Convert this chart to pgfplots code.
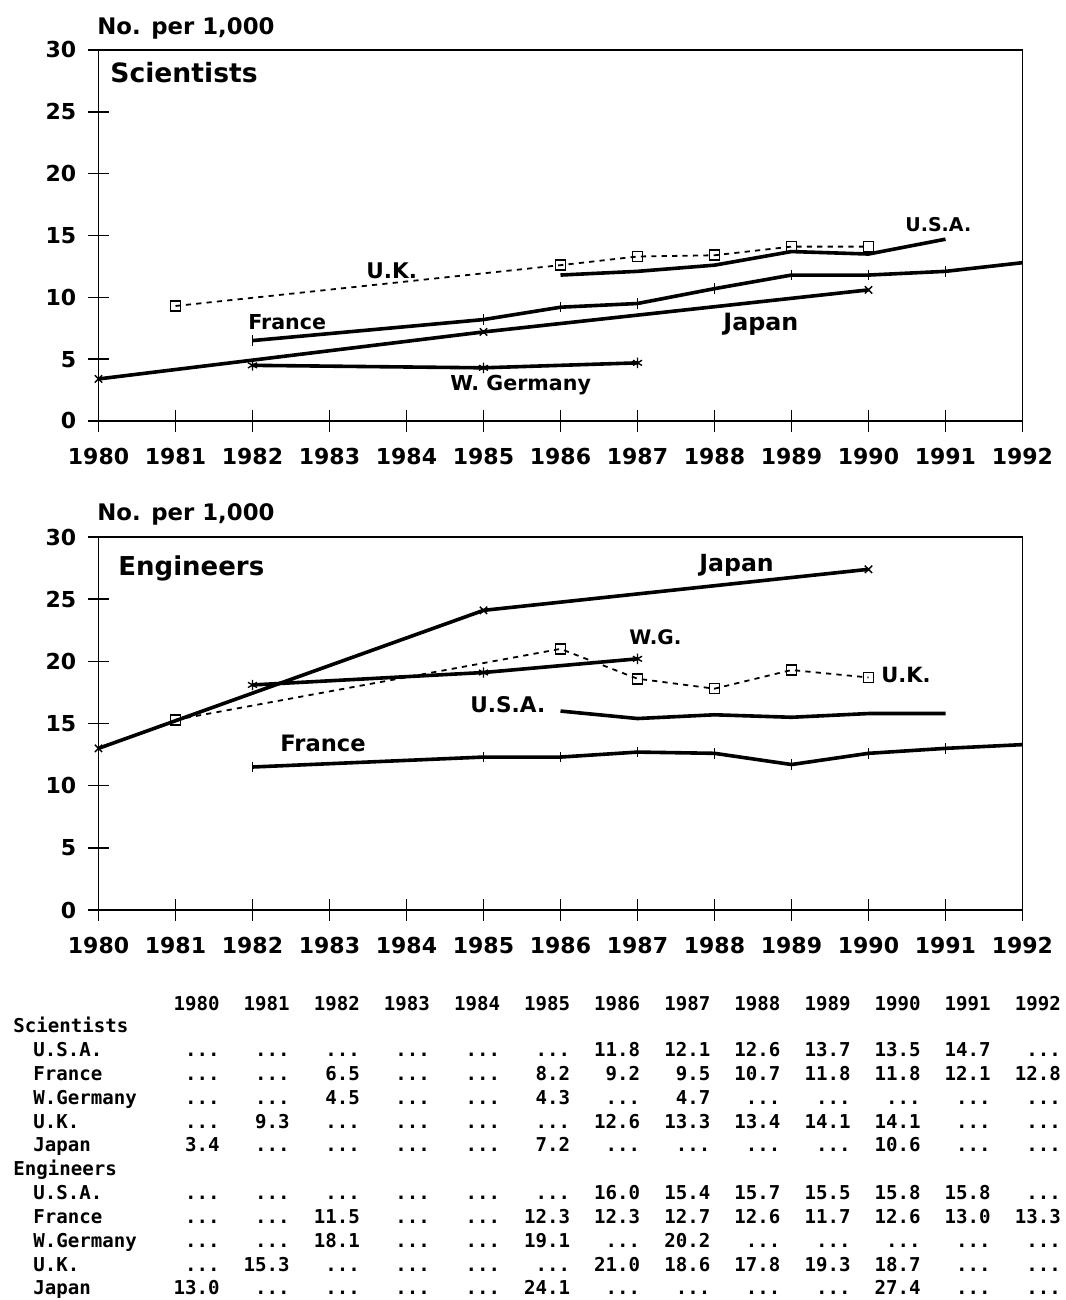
\documentclass[border=0pt]{standalone}
\usepackage{fontspec}
\setmainfont{DejaVu Sans}
\newfontfamily\tabfont{DejaVu Sans Mono}
\usepackage{pgfplots}
\pgfplotsset{compat=1.18}
\newcommand\F[1]{\fontsize{#1}{#1}\selectfont\bfseries}
\pgfplotsset{
  myax/.style={
    scale only axis, width=462pt, height=185.5pt,
    xmin=1980, xmax=1992, ymin=0, ymax=30,
    xtick={1980,...,1992}, ytick={0,5,...,30},
    tick pos=left, tick align=center, major tick length=11pt,
    axis line style={line width=0.9pt},
    tick style={black, line width=0.8pt},
    /pgf/number format/assume math mode=true,
    tick label style={font=\F{11}},
    xticklabel style={anchor=base, yshift=-16.3pt, /pgf/number format/1000 sep={}},
    yticklabel style={anchor=east, inner sep=0pt, xshift=-5.5pt},
    clip=false,
  },
  ln/.style={black, line width=1.8pt, mark size=2.6pt, mark options={solid, line width=0.7pt}},
  uk/.style={black, line width=0.9pt, dash pattern=on 2.6pt off 2.6pt, mark=square, mark size=2.5pt, mark options={solid, line width=0.8pt}},
}
\def\dd{...}
\newcommand\trow[2]{%
  \foreach \v [count=\i from 0] in {#2} {\node[anchor=base east] at ({220+70.1*\i},#1) {\v};}}
\begin{document}
\begin{tikzpicture}
\useasboundingbox (0,0) rectangle (532.5pt,650pt);
% ---------------- Scientists
\begin{axis}[myax, at={(49.25pt,439.5pt)}, anchor=south west]
\addplot[ln, mark=none] coordinates {(1986,11.8)(1987,12.1)(1988,12.6)(1989,13.7)(1990,13.5)(1991,14.7)};
\addplot[ln, mark=|] coordinates {(1982,6.5)(1985,8.2)(1986,9.2)(1987,9.5)(1988,10.7)(1989,11.8)(1990,11.8)(1991,12.1)(1992,12.8)};
\addplot[ln, mark=asterisk] coordinates {(1982,4.5)(1985,4.3)(1987,4.7)};
\addplot[uk] coordinates {(1981,9.3)(1986,12.6)(1987,13.3)(1988,13.4)(1989,14.1)(1990,14.1)};
\addplot[ln, mark=x] coordinates {(1980,3.4)(1985,7.2)(1990,10.6)};
\end{axis}
% ---------------- Engineers
\begin{axis}[myax, height=186.5pt, at={(49.25pt,195pt)}, anchor=south west]
\addplot[ln, mark=none] coordinates {(1986,16.0)(1987,15.4)(1988,15.7)(1989,15.5)(1990,15.8)(1991,15.8)};
\addplot[ln, mark=|] coordinates {(1982,11.5)(1985,12.3)(1986,12.3)(1987,12.7)(1988,12.6)(1989,11.7)(1990,12.6)(1991,13.0)(1992,13.3)};
\addplot[ln, mark=asterisk] coordinates {(1982,18.1)(1985,19.1)(1987,20.2)};
\addplot[uk] coordinates {(1981,15.3)(1986,21.0)(1987,18.6)(1988,17.8)(1989,19.3)(1990,18.7)};
\addplot[ln, mark=x] coordinates {(1980,13.0)(1985,24.1)(1990,27.4)};
\end{axis}
\begin{scope}[x=0.5pt, y=-0.5pt, yshift=650pt, every node/.style={inner sep=0pt}]
% top labels
\node[anchor=base west, font=\F{11.4}] at (97,35) {No. per 1,000};
\node[anchor=base west, font=\F{13.3}] at (110,83) {Scientists};
\node[anchor=base west, font=\F{9.5}] at (905,232) {U.S.A.};
\node[anchor=base west, font=\F{10.8}] at (366,279) {U.K.};
\node[anchor=base west, font=\F{10.3}] at (248,330) {France};
\node[anchor=base west, font=\F{11.9}] at (723,331) {Japan};
\node[anchor=base west, font=\F{10.3}] at (450,391) {W. Germany};
% bottom labels
\node[anchor=base west, font=\F{11.4}] at (97,521) {No. per 1,000};
\node[anchor=base west, font=\F{13}] at (118,576) {Engineers};
\node[anchor=base west, font=\F{11.8}] at (699,572) {Japan};
\node[anchor=base west, font=\F{10}] at (629,645) {W.G.};
\node[anchor=base west, font=\F{10.5}] at (881,683) {U.K.};
\node[anchor=base west, font=\F{10.8}] at (470,713) {U.S.A.};
\node[anchor=base west, font=\F{11.3}] at (280,752) {France};
% table
\begin{scope}[every node/.style={inner sep=0pt, font=\tabfont\bfseries\fontsize{9.55}{9.55}\selectfont}]
\trow{1011}{1980,1981,1982,1983,1984,1985,1986,1987,1988,1989,1990,1991,1992}
\node[anchor=base west] at (13,1033) {Scientists};
\node[anchor=base west] at (33,1057) {U.S.A.};
\trow{1057}{\dd,\dd,\dd,\dd,\dd,\dd,11.8,12.1,12.6,13.7,13.5,14.7,\dd}
\node[anchor=base west] at (33,1081) {France};
\trow{1081}{\dd,\dd,6.5,\dd,\dd,8.2,9.2,9.5,10.7,11.8,11.8,12.1,12.8}
\node[anchor=base west] at (33,1105) {W.Germany};
\trow{1105}{\dd,\dd,4.5,\dd,\dd,4.3,\dd,4.7,\dd,\dd,\dd,\dd,\dd}
\node[anchor=base west] at (33,1129) {U.K.};
\trow{1129}{\dd,9.3,\dd,\dd,\dd,\dd,12.6,13.3,13.4,14.1,14.1,\dd,\dd}
\node[anchor=base west] at (33,1152) {Japan};
\trow{1152}{3.4,\dd,\dd,\dd,\dd,7.2,\dd,\dd,\dd,\dd,10.6,\dd,\dd}
\node[anchor=base west] at (13,1176) {Engineers};
\node[anchor=base west] at (33,1200) {U.S.A.};
\trow{1200}{\dd,\dd,\dd,\dd,\dd,\dd,16.0,15.4,15.7,15.5,15.8,15.8,\dd}
\node[anchor=base west] at (33,1224) {France};
\trow{1224}{\dd,\dd,11.5,\dd,\dd,12.3,12.3,12.7,12.6,11.7,12.6,13.0,13.3}
\node[anchor=base west] at (33,1248) {W.Germany};
\trow{1248}{\dd,\dd,18.1,\dd,\dd,19.1,\dd,20.2,\dd,\dd,\dd,\dd,\dd}
\node[anchor=base west] at (33,1272) {U.K.};
\trow{1272}{\dd,15.3,\dd,\dd,\dd,\dd,21.0,18.6,17.8,19.3,18.7,\dd,\dd}
\node[anchor=base west] at (33,1295) {Japan};
\trow{1295}{13.0,\dd,\dd,\dd,\dd,24.1,\dd,\dd,\dd,\dd,27.4,\dd,\dd}
\end{scope}
\end{scope}
\end{tikzpicture}
\end{document}
